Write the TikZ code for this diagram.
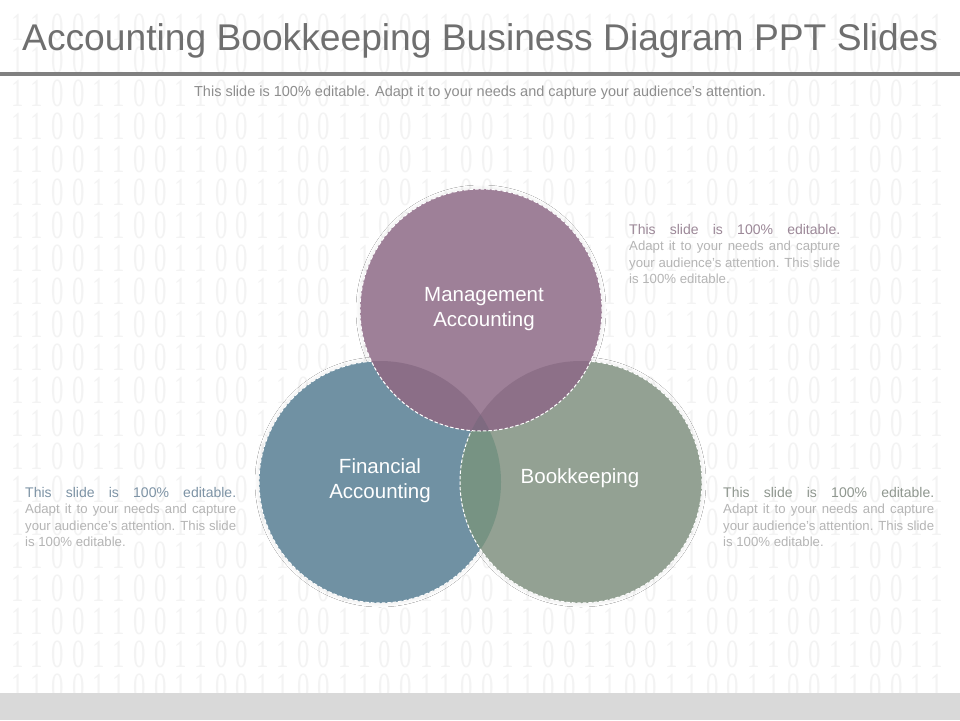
\documentclass[tikz,border=0pt]{standalone}
\usepackage{fontspec}
\setmainfont{Liberation Sans}
\newfontfamily\digitfont[FakeStretch=0.62, LetterSpace=20.7]{Liberation Serif}
\usetikzlibrary{shadows.blur}
\definecolor{titlegray}{HTML}{6F6F6F}
\definecolor{rulegray}{HTML}{808080}
\definecolor{subgray}{HTML}{8E8E8E}
\definecolor{digitgray}{HTML}{F3F3F3}
\definecolor{bandgray}{HTML}{D9D9D9}
\definecolor{bodygray}{HTML}{B5B5B5}
\definecolor{mgcol}{HTML}{9E8098}
\definecolor{fincol}{HTML}{7091A3}
\definecolor{bookcol}{HTML}{93A193}
\definecolor{finbook}{HTML}{779383}
\definecolor{mgfin}{HTML}{8B6E87}
\definecolor{mgbook}{HTML}{8D7088}
\definecolor{triple}{HTML}{7E6A80}
\definecolor{mghead}{HTML}{9C8898}
\definecolor{finhead}{HTML}{7D93A5}
\definecolor{bookhead}{HTML}{8F978F}
\tikzset{
  bord/.style={draw=white, line width=1pt, dash pattern=on 3.5pt off 2pt},
  shad/.style={blur shadow={shadow xshift=0pt, shadow yshift=0pt, shadow blur radius=4pt, shadow opacity=12}},
  circtext/.style={text=white, align=center, inner sep=0pt, font=\fontsize{20.5}{25}\selectfont},
  sidetext/.style={anchor=north west, inner sep=0pt, text width=211pt, align=justify, text=bodygray, font=\fontsize{13.2}{16.5}\selectfont},
}
\newcommand{\headline}[1]{{\color{#1}\fontsize{14}{16.5}\selectfont This\hfill slide\hfill is\hfill 100\%\hfill editable.\par}}
\newcommand{\bodylines}{Adapt it to your needs and capture\linebreak your audience's attention. This slide\linebreak is 100\% editable.}
\begin{document}
\begin{tikzpicture}[x=1pt,y=-1pt]
\useasboundingbox (0,0) rectangle (960,720);
\fill[white] (0,0) rectangle (960,720);
\foreach \k in {0,...,20} {
  \node[anchor=west, inner sep=0pt, text=digitgray, font=\digitfont\fontsize{40}{40}\selectfont] (row\k) at (11, 27+33*\k) {1100110011001100110011001100110011001100110011};
}
\node[anchor=base west, inner sep=0pt, text=titlegray, font=\fontsize{37.2}{42}\selectfont] (title) at (22,50) {Accounting Bookkeeping Business Diagram PPT Slides};
\draw[line width=4pt, rulegray] (0,74) -- (960,74);
\node[anchor=base, inner sep=0pt, text=subgray, font=\fontsize{14.5}{17}\selectfont] (sub) at (480,96) {This slide is 100\% editable. Adapt it to your needs and capture your audience's attention.};
\fill[bandgray] (0,693) rectangle (960,720);

\coordinate (M) at (481,310);
\coordinate (F) at (380,482);
\coordinate (B) at (581,482);
\path[shad, fill=white] (F) circle[radius=121pt];
\path[shad, fill=white] (B) circle[radius=121pt];
\path[shad, fill=white] (M) circle[radius=121pt];
\fill[fincol] (F) circle[radius=121pt];
\draw[bord] (F) circle[radius=121pt];
\fill[bookcol] (B) circle[radius=121pt];
\begin{scope}
  \clip (F) circle[radius=121pt];
  \fill[finbook] (B) circle[radius=121pt];
\end{scope}
\draw[bord] (B) circle[radius=121pt];
\fill[mgcol] (M) circle[radius=121pt];
\begin{scope}
  \clip (M) circle[radius=121pt];
  \fill[mgfin] (F) circle[radius=121pt];
  \fill[mgbook] (B) circle[radius=121pt];
  \clip (F) circle[radius=121pt];
  \fill[triple] (B) circle[radius=121pt];
\end{scope}
\draw[bord] (M) circle[radius=121pt];

\node[circtext] (mtext) at (484,309) {Management\\Accounting};
\node[circtext] (ftext) at (380,481) {Financial\\Accounting};
\node[circtext] (btext) at (580,478) {Bookkeeping};

\node[sidetext] (tr) at (629,224) {\headline{mghead}\bodylines};
\node[sidetext] (lf) at (25,487) {\headline{finhead}\bodylines};
\node[sidetext] (rb) at (723,487) {\headline{bookhead}\bodylines};
\end{tikzpicture}
\end{document}
